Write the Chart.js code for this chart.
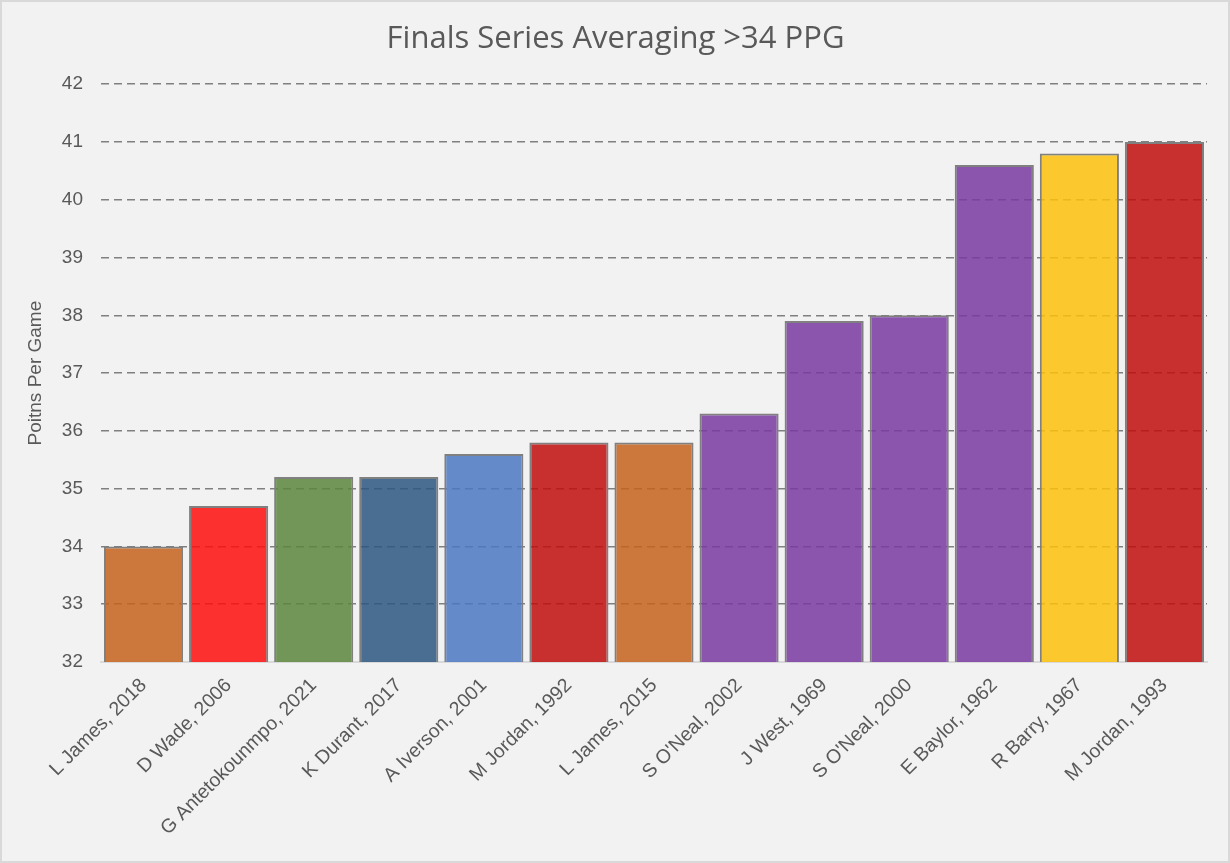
<!DOCTYPE html>
<html>
<head>
<meta charset="utf-8">
<title>Finals Series Averaging >34 PPG</title>
<script src="https://cdn.jsdelivr.net/npm/chart.js@4/dist/chart.umd.min.js"></script>
<style>
    html, body { margin: 0; padding: 0; background: #f2f2f2; }
    #wrap {
        width: 1230px; height: 863px; box-sizing: border-box;
        border: 2px solid #d9d9d9; background: #f2f2f2;
    }
    #wrap canvas { display: block; }
</style>
</head>
<body>
<div id="wrap"><canvas id="ppg-chart" width="1226" height="859"></canvas></div>
<script>
// ── Data ─────────────────────────────────────────────────────
const players = [
    'L James, 2018', 'D Wade, 2006', 'G Antetokounmpo, 2021', 'K Durant, 2017',
    'A Iverson, 2001', 'M Jordan, 1992', 'L James, 2015', "S O'Neal, 2002",
    'J West, 1969', "S O'Neal, 2000", 'E Baylor, 1962', 'R Barry, 1967', 'M Jordan, 1993',
];
const ppg = [34.0, 34.7, 35.2, 35.2, 35.6, 35.8, 35.8, 36.3, 37.9, 38.0, 40.6, 40.8, 41.0];
const barColors = [
    'rgba(197,98,28,0.85)',  'rgba(255,14,14,0.85)',  'rgba(91,134,61,0.85)',
    'rgba(44,87,128,0.85)',  'rgba(75,120,195,0.85)', 'rgba(193,14,14,0.85)',
    'rgba(197,98,28,0.85)',  'rgba(121,58,162,0.85)', 'rgba(121,58,162,0.85)',
    'rgba(121,58,162,0.85)', 'rgba(121,58,162,0.85)', 'rgba(253,193,11,0.85)',
    'rgba(193,14,14,0.85)',
];
const yTicks = [32, 33, 34, 35, 36, 37, 38, 39, 40, 41, 42];

(function () {
    'use strict';

    const TEXT = '#595959';
    const SANS = '"Liberation Sans", Arial, sans-serif';
    const ctx = document.getElementById('ppg-chart');

    new Chart(ctx, {
        type: 'bar',
        data: {
            labels: players,
            datasets: [{
                label: 'Points Per Game',
                data: ppg,
                backgroundColor: barColors,
                borderColor: '#808080',
                borderWidth: 2,
                categoryPercentage: 1,
                barPercentage: 0.93,
            }],
        },
        options: {
            responsive: false,
            animation: false,
            layout: { padding: { left: 22, right: 21, top: 0, bottom: 0 } },
            plugins: {
                legend: { display: false },
                tooltip: { enabled: false },
                title: {
                    display: true,
                    text: 'Finals Series Averaging >34 PPG',
                    color: TEXT,
                    font: { family: '"Open Sans", sans-serif', size: 31, weight: 'normal' },
                    padding: { top: 19, bottom: 26 },
                },
            },
            scales: {
                x: {
                    grid: { display: false },
                    border: { display: true, color: '#d9d9d9', width: 2 },
                    ticks: {
                        color: TEXT,
                        font: { family: SANS, size: 19.5 },
                        minRotation: 45, maxRotation: 45,
                        padding: 4,
                    },
                    afterFit: s => { s.height = 199; },
                },
                y: {
                    min: 32, max: 42,
                    afterBuildTicks: s => { s.ticks = yTicks.map(v => ({ value: v })); },
                    grid: { color: '#808080', lineWidth: 1.5, drawTicks: false },
                    border: { display: false, dash: [8, 5] },
                    ticks: {
                        color: TEXT,
                        font: { family: SANS, size: 19 },
                        padding: 18,
                    },
                    title: {
                        display: true,
                        text: 'Poitns Per Game',
                        color: TEXT,
                        font: { family: SANS, size: 19 },
                        padding: 0,
                    },
                    afterFit: s => { s.width = 77; },
                },
            },
        },
    });
})();
</script>
</body>
</html>
